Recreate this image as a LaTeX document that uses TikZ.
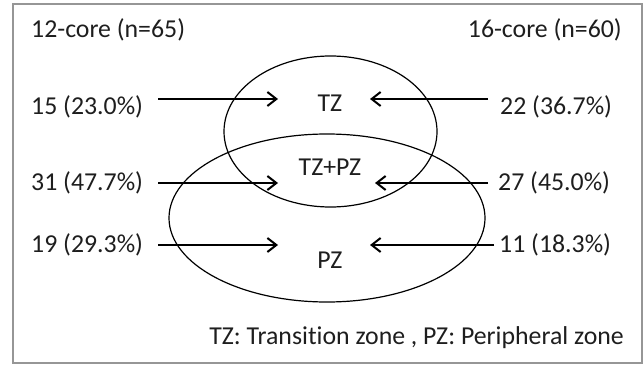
\documentclass[tikz,border=0pt]{standalone}
\usepackage{fontspec}
\setmainfont{Carlito}[Ligatures={NoCommon}]
\usetikzlibrary{arrows.meta}
\begin{document}
\begin{tikzpicture}[x=1pt,y=-1pt,
  lbl/.style={inner sep=0pt,text={rgb,255:red,30;green,30;blue,30},font=\fontsize{25.8}{30}\selectfont},
  arr/.style={line width=2pt,-{Straight Barb[length=9pt,width=14pt,line width=2pt]}},
  zone/.style={draw,line width=1.2pt}]
\useasboundingbox (0,0) rectangle (644,366);
\draw[line width=2pt,color={rgb,255:red,150;green,150;blue,150}] (13,4) rectangle (642,363);
% ellipses
\draw[zone] (330.5,131.5) ellipse [x radius=106.5pt, y radius=75.5pt];
\draw[zone] (327,218) ellipse [x radius=158pt, y radius=84pt];
% headers
\node[lbl,anchor=west] (h12) at (31,30) {12-core (n=65)};
\node[lbl,anchor=east] (h16) at (622,30) {16-core (n=60)};
% zone labels
\node[lbl] (tz) at (330,103) {TZ};
\node[lbl] (tzpz) at (330,167) {TZ+PZ};
\node[lbl] (pz) at (330,260) {PZ};
% left values
\node[lbl,anchor=west] (l1) at (31,107) {15 (23.0\%)};
\node[lbl,anchor=west] (l2) at (31,183) {31 (47.7\%)};
\node[lbl,anchor=west] (l3) at (31,245) {19 (29.3\%)};
% right values
\node[lbl,anchor=west] (r1) at (500,107) {22 (36.7\%)};
\node[lbl,anchor=west] (r2) at (498,183) {27 (45.0\%)};
\node[lbl,anchor=west] (r3) at (499,245) {11 (18.3\%)};
% arrow endpoints
\coordinate (a1s) at (158,99);  \coordinate (a1e) at (278,99);
\coordinate (a2s) at (158,183); \coordinate (a2e) at (278,183);
\coordinate (a3s) at (158,245); \coordinate (a3e) at (278,245);
\coordinate (b1s) at (488,99);  \coordinate (b1e) at (370,99);
\coordinate (b2s) at (488,183); \coordinate (b2e) at (375,183);
\coordinate (b3s) at (494,245); \coordinate (b3e) at (370,245);
\draw[arr] (a1s) -- (a1e);
\draw[arr] (a2s) -- (a2e);
\draw[arr] (a3s) -- (a3e);
\draw[arr] (b1s) -- (b1e);
\draw[arr] (b2s) -- (b2e);
\draw[arr] (b3s) -- (b3e);
% legend
\node[lbl,anchor=east] (legend) at (624,338) {TZ: Transition zone , PZ: Peripheral zone};
\end{tikzpicture}
\end{document}
